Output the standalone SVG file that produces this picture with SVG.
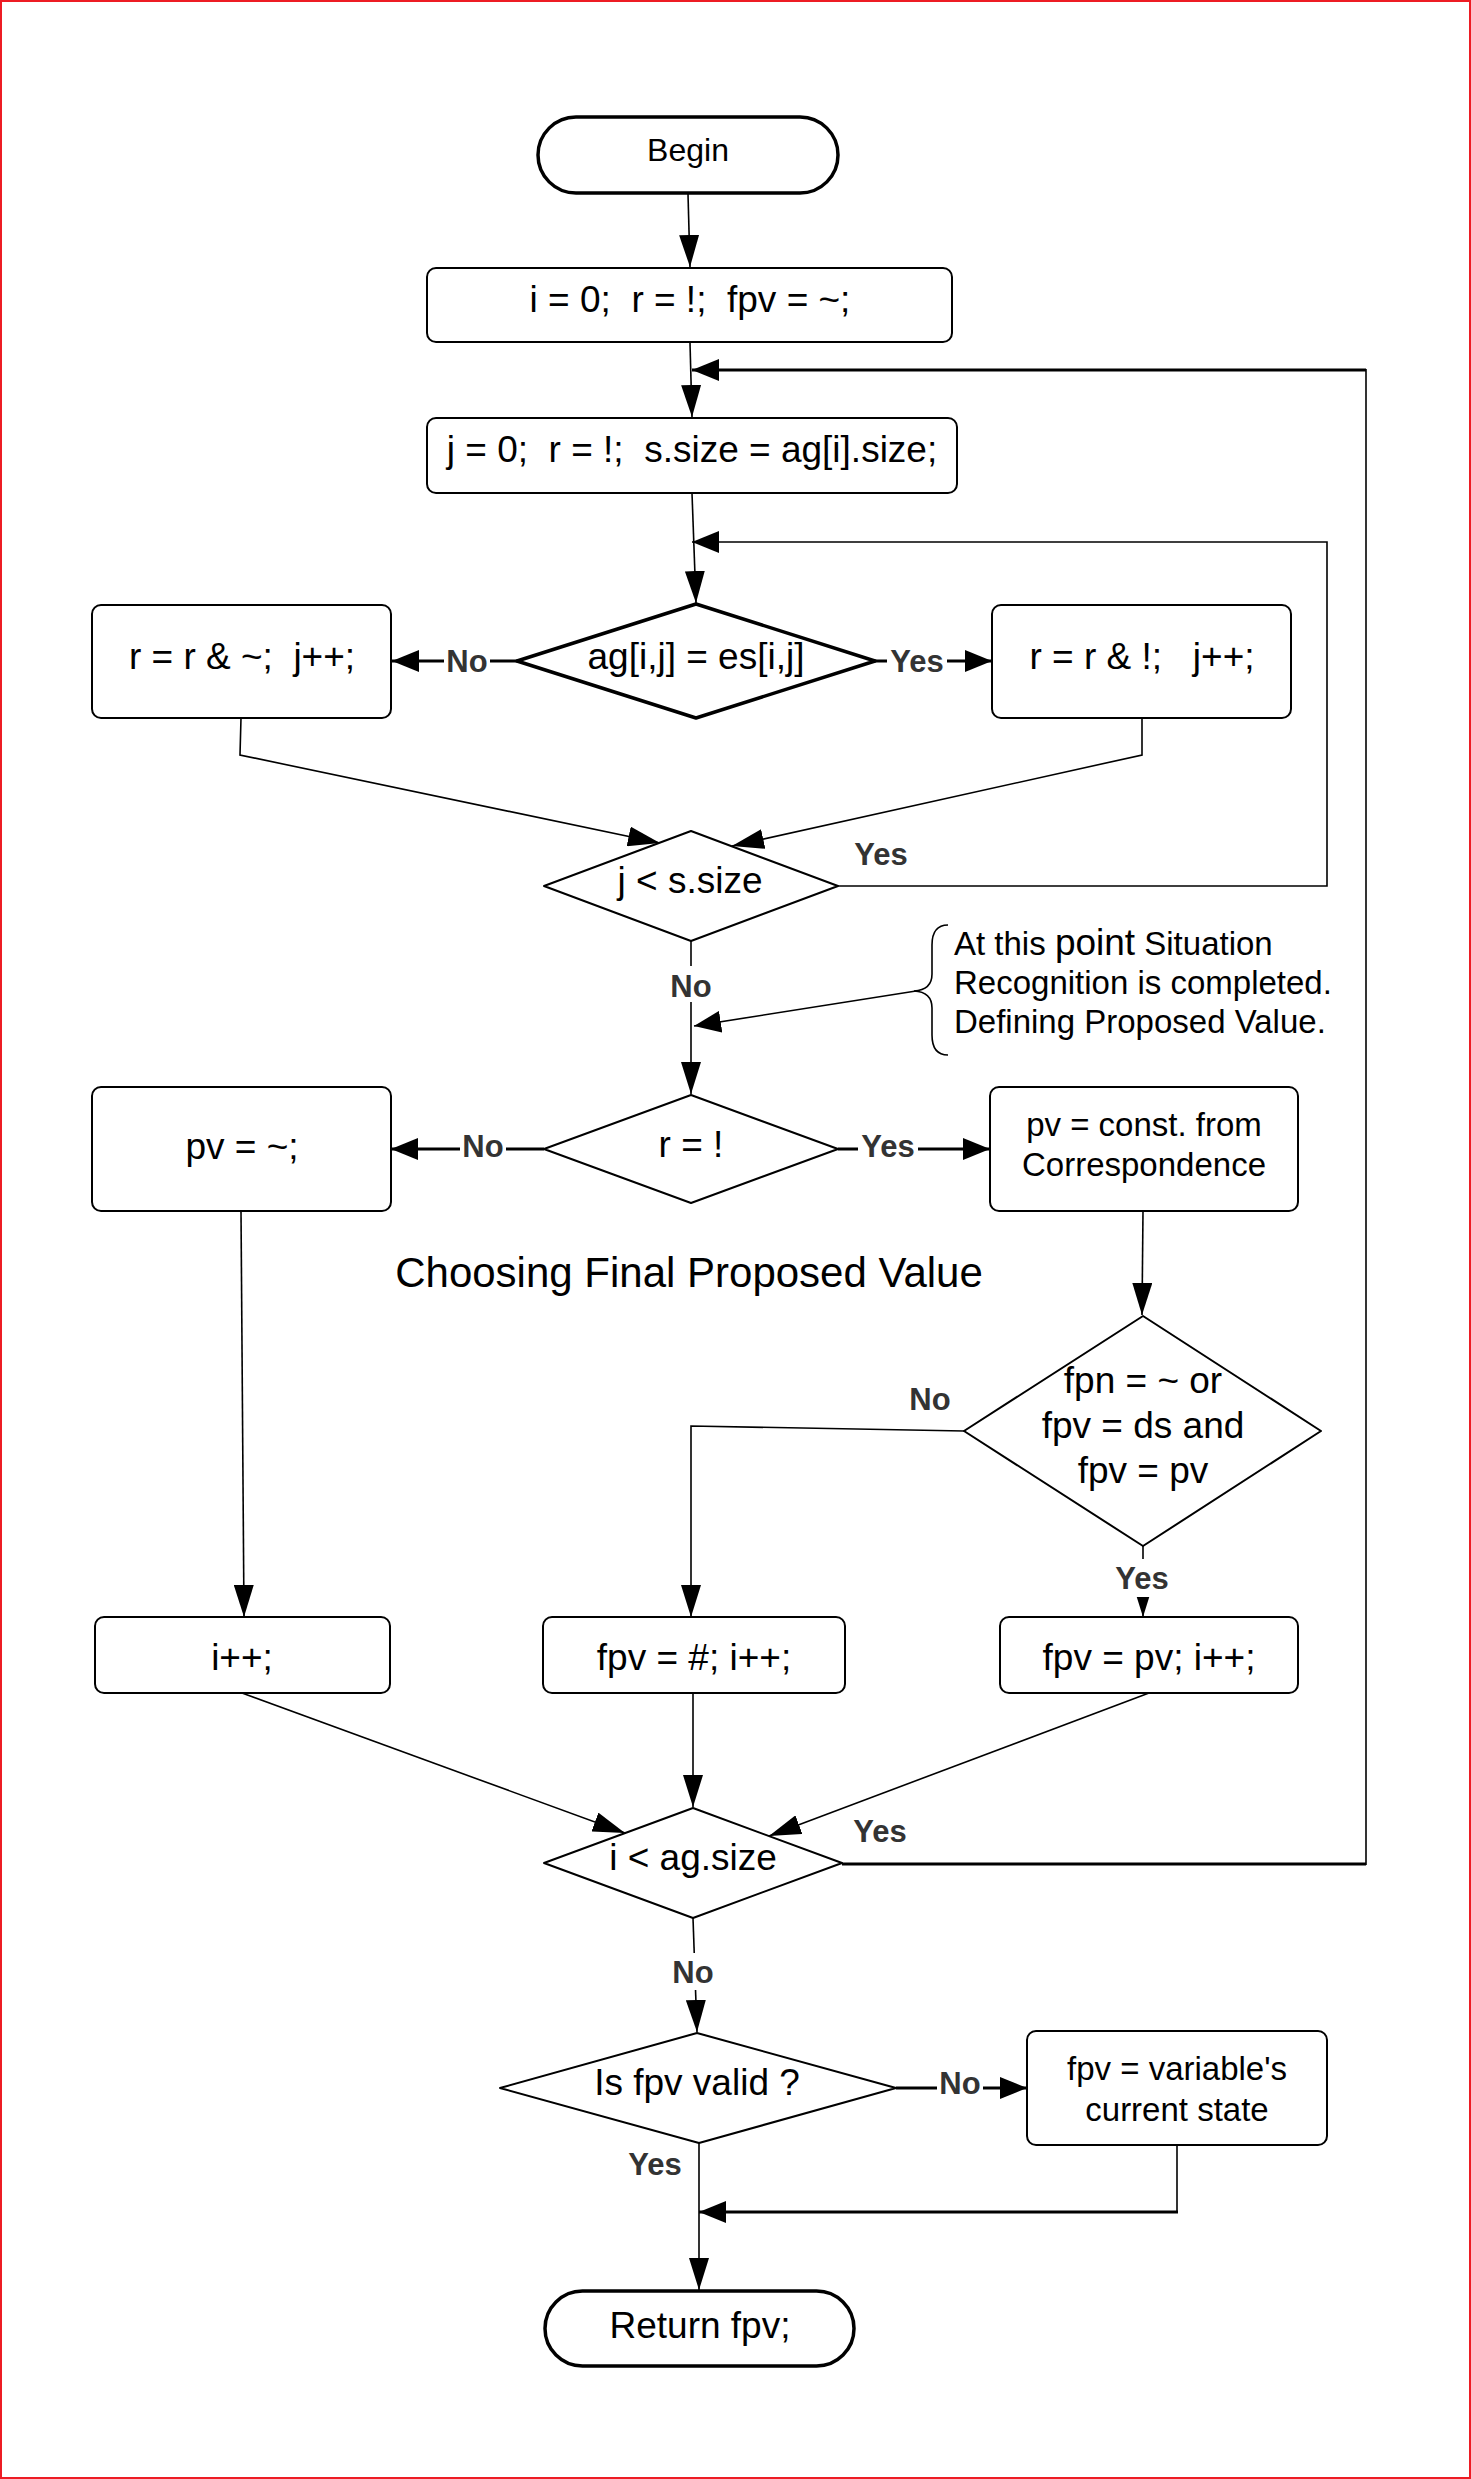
<svg xmlns="http://www.w3.org/2000/svg" width="1471" height="2479" viewBox="0 0 1471 2479">
<style>
.t{font-family:"Liberation Sans",Arial,sans-serif;font-size:37px;fill:#000;text-anchor:middle;white-space:pre}
.s{font-size:33px}
.lb{font-family:"Liberation Sans",Arial,sans-serif;font-size:31px;font-weight:bold;fill:#333;text-anchor:middle}
.box{fill:#fff;stroke:#000;stroke-width:2}
.thk{fill:#fff;stroke:#000;stroke-width:3.5}
.dia{fill:#fff;stroke:#000;stroke-width:2;stroke-linejoin:round}
.ln{fill:none;stroke:#000;stroke-width:1.6}
.lt{fill:none;stroke:#000;stroke-width:3.2}
.bg{fill:#fff}
</style>
<defs>
<marker id="a" markerUnits="userSpaceOnUse" markerWidth="32" markerHeight="20" refX="32" refY="10" orient="auto" viewBox="0 0 32 20"><path d="M0,0 L32,10 L0,20 z" fill="#000"/></marker>
<marker id="b" markerUnits="userSpaceOnUse" markerWidth="27" markerHeight="22" refX="27" refY="11" orient="auto" viewBox="0 0 27 22"><path d="M0,0 L27,11 L0,22 z" fill="#000"/></marker>
</defs>
<rect x="0" y="0" width="1471" height="2479" fill="#fff"/>
<rect x="1" y="1" width="1469" height="2477" fill="none" stroke="#ed1c24" stroke-width="2"/>

<g id="connectors">
<path class="ln" d="M688,194 L690,267" marker-end="url(#a)"/>
<path class="ln" d="M690,343 L692,417" marker-end="url(#a)"/>
<path class="ln" d="M692,493 L696,603" marker-end="url(#a)"/>
<path class="lt" d="M842,1864 H1366"/>
<path class="ln" d="M1366,1865 V369"/>
<path class="lt" d="M1366,370 H692" marker-end="url(#b)"/>
<path class="ln" d="M838,886 H1327 V542 H692" marker-end="url(#b)"/>
<path class="lt" d="M517,661 H392" marker-end="url(#b)"/>
<path class="lt" d="M875,661 H992" marker-end="url(#b)"/>
<path class="ln" d="M241,718 L240,755 L660,843" marker-end="url(#a)"/>
<path class="ln" d="M1142,718 V755 L732,846" marker-end="url(#a)"/>
<path class="ln" d="M691,941 V1094" marker-end="url(#a)"/>
<path class="ln" d="M916,991 L694,1026" marker-end="url(#b)"/>
<path class="lt" d="M544,1149 H391" marker-end="url(#b)"/>
<path class="lt" d="M838,1149 H990" marker-end="url(#b)"/>
<path class="ln" d="M241,1211 L244,1617" marker-end="url(#a)"/>
<path class="ln" d="M1143,1211 L1142,1315" marker-end="url(#a)"/>
<path class="ln" d="M964,1431 L691,1426 V1617" marker-end="url(#a)"/>
<path class="ln" d="M1143,1546 V1617" marker-end="url(#a)"/>
<path class="ln" d="M242,1693 L625,1833" marker-end="url(#a)"/>
<path class="ln" d="M693,1693 V1807" marker-end="url(#a)"/>
<path class="ln" d="M1149,1693 L769,1836" marker-end="url(#a)"/>
<path class="ln" d="M693,1918 L697,2032" marker-end="url(#a)"/>
<path class="lt" d="M896,2088 H1027" marker-end="url(#b)"/>
<path class="ln" d="M699,2143 V2290" marker-end="url(#a)"/>
<path class="ln" d="M1177,2145 V2212"/>
<path class="lt" d="M1178,2212 H699" marker-end="url(#b)"/>
<path class="ln" d="M948,925 Q932,925 932,945 L932,974 Q932,990 914,991 Q932,992 932,1008 L932,1035 Q932,1055 948,1055"/>
</g>

<g id="labels">
<rect class="bg" x="444" y="644" width="46" height="34"/><text class="lb" x="467" y="672">No</text>
<rect class="bg" x="887" y="644" width="60" height="34"/><text class="lb" x="917" y="672">Yes</text>
<text class="lb" x="881" y="865">Yes</text>
<rect class="bg" x="668" y="966" width="46" height="36"/><text class="lb" x="691" y="997">No</text>
<rect class="bg" x="460" y="1131" width="46" height="34"/><text class="lb" x="483" y="1157">No</text>
<rect class="bg" x="858" y="1131" width="60" height="34"/><text class="lb" x="888" y="1157">Yes</text>
<text class="lb" x="930" y="1410">No</text>
<rect class="bg" x="1112" y="1559" width="60" height="38"/><text class="lb" x="1142" y="1589">Yes</text>
<text class="lb" x="880" y="1842">Yes</text>
<rect class="bg" x="670" y="1953" width="46" height="37"/><text class="lb" x="693" y="1983">No</text>
<rect class="bg" x="937" y="2067" width="46" height="34"/><text class="lb" x="960" y="2094">No</text>
<text class="lb" x="655" y="2175">Yes</text>
</g>

<g id="begin"><rect class="thk" x="538" y="117" width="300" height="76" rx="38"/><text class="t" style="font-size:32px" x="688" y="161">Begin</text></g>
<g id="init-i"><rect class="box" x="427" y="268" width="525" height="74" rx="9"/><text class="t" x="690" y="312" xml:space="preserve">i = 0;  r = !;  fpv = ~;</text></g>
<g id="init-j"><rect class="box" x="427" y="418" width="530" height="75" rx="9"/><text class="t" x="692" y="462" xml:space="preserve">j = 0;  r = !;  s.size = ag[i].size;</text></g>
<g id="cmp"><polygon class="dia" style="stroke-width:3.5" points="517,661 696,604 875,661 696,718"/><text class="t" x="696" y="669">ag[i,j] = es[i,j]</text></g>
<g id="r-no"><rect class="box" x="92" y="605" width="299" height="113" rx="9"/><text class="t" x="242" y="669" xml:space="preserve">r = r &amp; ~;  j++;</text></g>
<g id="r-yes"><rect class="box" x="992" y="605" width="299" height="113" rx="9"/><text class="t" x="1142" y="669" xml:space="preserve">r = r &amp; !;   j++;</text></g>
<g id="j-loop"><polygon class="dia" points="544,886 691,831 838,886 691,941"/><text class="t" x="690" y="893">j &lt; s.size</text></g>
<g id="note"><text class="t s" style="text-anchor:start" x="954" y="955">At this <tspan style="font-size:37px">point</tspan> Situation</text><text class="t s" style="text-anchor:start" x="954" y="994">Recognition is completed.</text><text class="t s" style="text-anchor:start" x="954" y="1033">Defining Proposed Value.</text></g>
<g id="r-check"><polygon class="dia" points="544,1149 691,1095 838,1149 691,1203"/><text class="t" x="691" y="1157">r = !</text></g>
<g id="pv-none"><rect class="box" x="92" y="1087" width="299" height="124" rx="9"/><text class="t" x="242" y="1159">pv = ~;</text></g>
<g id="pv-const"><rect class="box" x="990" y="1087" width="308" height="124" rx="9"/><text class="t s" x="1144" y="1136">pv = const. from</text><text class="t s" x="1144" y="1176">Correspondence</text></g>
<g id="title"><text class="t" style="font-size:42px" x="689" y="1287">Choosing Final Proposed Value</text></g>
<g id="fpn"><polygon class="dia" points="964,1431 1143,1316 1321,1431 1143,1546"/><text class="t" x="1143" y="1393">fpn = ~ or</text><text class="t" x="1143" y="1438">fpv = ds and</text><text class="t" x="1143" y="1483">fpv = pv</text></g>
<g id="inc"><rect class="box" x="95" y="1617" width="295" height="76" rx="9"/><text class="t" x="242" y="1670">i++;</text></g>
<g id="fpv-hash"><rect class="box" x="543" y="1617" width="302" height="76" rx="9"/><text class="t" x="694" y="1670">fpv = #; i++;</text></g>
<g id="fpv-pv"><rect class="box" x="1000" y="1617" width="298" height="76" rx="9"/><text class="t" x="1149" y="1670">fpv = pv; i++;</text></g>
<g id="i-loop"><polygon class="dia" points="544,1863 693,1808 842,1863 693,1918"/><text class="t" x="693" y="1870">i &lt; ag.size</text></g>
<g id="valid"><polygon class="dia" points="500,2088 697,2033 896,2088 699,2143"/><text class="t" x="697" y="2095">Is fpv valid ?</text></g>
<g id="fpv-var"><rect class="box" x="1027" y="2031" width="300" height="114" rx="9"/><text class="t s" x="1177" y="2080">fpv = variable's</text><text class="t s" x="1177" y="2121">current state</text></g>
<g id="return"><rect class="thk" x="545" y="2291" width="309" height="75" rx="37.5"/><text class="t" x="700" y="2338">Return fpv;</text></g>
</svg>
